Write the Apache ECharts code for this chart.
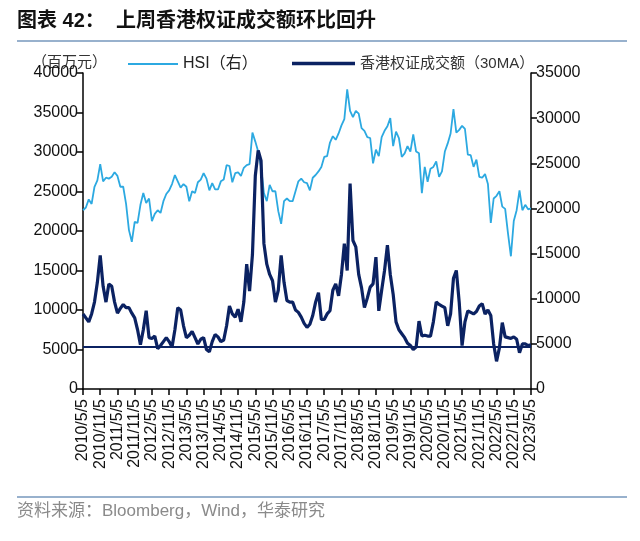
<!DOCTYPE html>
<html>
<head>
<meta charset="utf-8">
<script src="https://cdn.jsdelivr.net/npm/echarts@6/dist/echarts.min.js"></script>
<style>
html,body{margin:0;padding:0;background:#fff;}
#chart{width:640px;height:541px;}
</style>
</head>
<body>
<div id="chart"></div>
<script>
// Monthly dates from 2010/5/5 to 2023/5/5
const categories = [];
for (let y = 2010, m = 5; y < 2023 || (y === 2023 && m <= 5); ) {
  categories.push(y + '/' + m + '/5');
  m++; if (m > 12) { m = 1; y++; }
}

// 香港权证成交额（30MA），百万元（左轴）
const turnover = [
  9500, 9000, 8500, 9500, 11000, 13500, 16900, 13000, 11000, 13300,
  13000, 11000, 9600, 10200, 10700, 10300, 10300, 9600, 9000, 7500,
  5600, 7500, 9900, 6500, 6400, 6700, 5100, 5500, 6000, 6500,
  6000, 5300, 7500, 10300, 10000, 8000, 6500, 6800, 7300, 6500,
  5700, 6300, 6500, 5000, 4700, 6000, 6900, 6600, 6000, 6200,
  8000, 10500, 9500, 9100, 10100, 8500, 11000, 15800, 12400, 17000,
  27000, 30200, 28900, 18400, 15800, 14500, 13700, 11000, 12500, 16900,
  13500, 11200, 11000, 11000, 10000, 9700, 9100, 8300, 7800, 8200,
  9300, 11000, 12200, 8800, 8800, 9500, 9900, 12500, 13300, 11800,
  14500, 18400, 15000, 26000, 18800, 18000, 14500, 12800, 10300, 11500,
  12900, 13300, 16700, 9900, 12500, 15000, 18200, 14500, 12000, 8500,
  7500, 7000, 6500, 5800, 5500, 5000, 5300, 8600, 6700, 6800,
  6700, 6700, 8500, 11000, 10700, 10500, 10300, 8000, 9500, 14000,
  15000, 11000, 5500, 8500, 9900, 9700, 9500, 9800, 10500, 10800,
  9500, 10000, 9300, 5700, 3500, 5200, 8400, 6600, 6500, 6400,
  6600, 6300, 4600, 5700, 5700, 5500, 5600
];

// HSI（右轴）
const hsi = [
  19800, 20100, 21000, 20500, 22400, 23100, 24900, 23000, 23400, 23300,
  23500, 24000, 23600, 22400, 22400, 20500, 17600, 16300, 18500, 18400,
  20400, 21700, 20600, 21100, 18600, 19400, 19800, 19500, 20800, 21600,
  22000, 22700, 23700, 23000, 22300, 22700, 22400, 20800, 21900, 21700,
  22900, 23200, 23900, 23300, 22000, 22800, 22100, 22100, 23000, 23200,
  24800, 24700, 22900, 23900, 24000, 23600, 24500, 24800, 24900, 28400,
  27400, 26300, 24600, 21700, 20800, 22600, 21900, 21900, 19700, 18300,
  20800, 21100, 20800, 20800, 21900, 23000, 23300, 22900, 22800, 22000,
  23400, 23700, 24100, 24600, 25700, 25800, 27300, 28000, 27600, 28300,
  29200, 29900, 33200, 30800, 30100, 30800, 30500, 28900, 28600, 27900,
  27800, 25000, 26500, 25800, 27900, 28600, 29100, 30000, 26900, 28500,
  27800, 25700, 26100, 26900, 26300, 28200, 26300, 26100, 21700, 24600,
  22960, 24400, 24600, 25200, 23500, 24100, 26300, 27200, 28300, 31000,
  28400, 28700, 29150, 28800, 25960, 25900, 24600, 25400, 23500, 23400,
  23800, 22700, 18400, 21100, 21400, 21900, 20200, 19950, 17200, 14700,
  18600, 19800, 22000, 19800, 20400, 19900, 20000
];

// 参考水平线（左轴）
const refLine = [5400];

const leftTicks = [0, 40000, 5000];   // min, max, interval
const rightTicks = [0, 35000, 5000];

const chart = echarts.init(document.getElementById('chart'));
const numFont = "'Liberation Sans', Arial, sans-serif";
const cjkFont = "'Noto Sans CJK SC', sans-serif";
const mixFont = "'Liberation Sans', 'Noto Sans CJK SC', sans-serif";
const axisLine = { show: true, lineStyle: { color: '#000', width: 1.5 } };
const plain = v => String(v);

chart.setOption({
  animation: false,
  backgroundColor: '#fff',
  grid: { left: 83, right: 109, top: 73, bottom: 152, containLabel: false },
  graphic: [
    { type: 'text', left: 17, top: 11,
      style: { text: '图表 42：  上周香港权证成交额环比回升', font: 'bold 20px ' + mixFont, fill: '#111' } },
    { type: 'rect', shape: { x: 17, y: 40, width: 610, height: 2 }, style: { fill: '#98B1CD' } },
    { type: 'text', left: 32, top: 54,
      style: { text: '（百万元）', font: '15px ' + cjkFont, fill: '#333' } },
    { type: 'rect', shape: { x: 17, y: 496, width: 610, height: 2 }, style: { fill: '#98B1CD' } },
    { type: 'text', left: 17, top: 503,
      style: { text: '资料来源：Bloomberg，Wind，华泰研究', font: '17px ' + mixFont, fill: '#8a8a8a' } }
  ],
  legend: [
    { data: ['HSI（右）'], left: 128, top: 56, padding: 0, itemWidth: 50, itemHeight: 10, itemGap: 8,
      icon: 'path://M0,4 L50,4 L50,6 L0,6 Z',
      textStyle: { fontSize: 16, color: '#222', fontFamily: mixFont } },
    { data: ['香港权证成交额（30MA）'], left: 292, top: 56, padding: 0, itemWidth: 63, itemHeight: 10, itemGap: 4,
      icon: 'path://M0,3.2 L63,3.2 L63,6.8 L0,6.8 Z',
      textStyle: { fontSize: 15, color: '#333', fontFamily: mixFont } }
  ],
  xAxis: {
    type: 'category',
    data: categories,
    boundaryGap: false,
    axisLine: axisLine,
    axisTick: { show: true, interval: 5, length: 6, lineStyle: { color: '#000', width: 1.5 } },
    axisLabel: { interval: 5, rotate: 90, fontSize: 16, color: '#111', fontFamily: numFont, margin: 10 },
    splitLine: { show: false }
  },
  yAxis: [
    { type: 'value', min: leftTicks[0], max: leftTicks[1], interval: leftTicks[2], position: 'left',
      axisLine: axisLine,
      axisTick: { show: true, length: 6, lineStyle: { color: '#000', width: 1.5 } },
      axisLabel: { fontSize: 16, color: '#111', fontFamily: numFont, margin: 5, formatter: plain },
      splitLine: { show: false } },
    { type: 'value', min: rightTicks[0], max: rightTicks[1], interval: rightTicks[2], position: 'right',
      axisLine: axisLine,
      axisTick: { show: true, length: 6, lineStyle: { color: '#000', width: 1.5 } },
      axisLabel: { fontSize: 16, color: '#111', fontFamily: numFont, margin: 5, formatter: plain },
      splitLine: { show: false } }
  ],
  series: [
    { name: 'HSI（右）', type: 'line', yAxisIndex: 1, data: hsi, showSymbol: false,
      lineStyle: { color: '#2CA9E1', width: 1.8 }, itemStyle: { color: '#2CA9E1' } },
    { name: '香港权证成交额（30MA）', type: 'line', yAxisIndex: 0, data: turnover, showSymbol: false,
      lineStyle: { color: '#0B2262', width: 3.2 }, itemStyle: { color: '#0B2262' },
      markLine: { symbol: 'none', silent: true, label: { show: false },
        lineStyle: { color: '#0B2262', width: 2, type: 'solid' },
        data: [{ yAxis: refLine[0] }] } }
  ]
});
</script>
</body>
</html>
